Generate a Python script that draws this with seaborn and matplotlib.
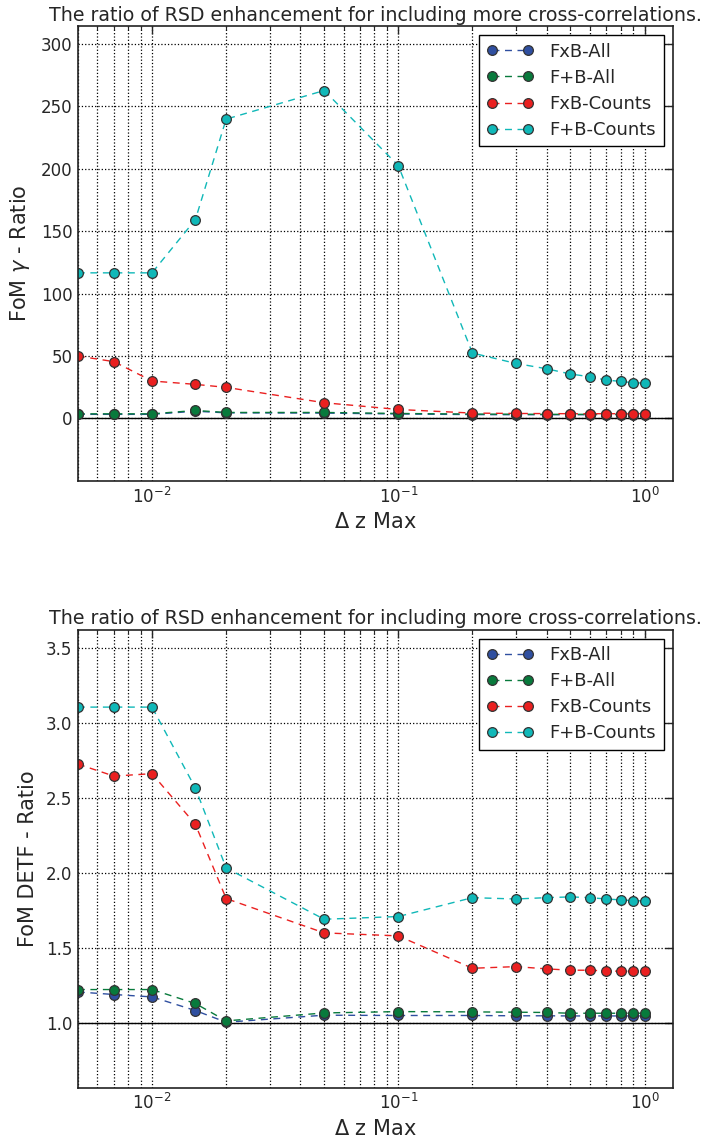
import numpy as np
import pandas as pd
import matplotlib
matplotlib.use("Agg")
import matplotlib.pyplot as plt
import seaborn as sns

# Delta z max values (x axis)
dz_max = [0.005, 0.007, 0.01, 0.015, 0.02, 0.05, 0.1, 0.2, 0.3, 0.4, 0.5, 0.6, 0.7, 0.8, 0.9, 1.0]
series_names = ["FxB-All", "F+B-All", "FxB-Counts", "F+B-Counts"]
series_colors = ["#2f4fa0", "#087a3c", "#ea2020", "#10b8b8"]

# FoM gamma ratio (top panel)
gamma_fxb_all = [3.3, 3.3, 3.3, 5.8, 4.5, 4.3, 3.6, 3.1, 3.0, 3.0, 3.0, 3.0, 3.0, 3.0, 3.0, 3.0]
gamma_fpb_all = [3.7, 3.7, 3.7, 6.4, 4.8, 4.8, 4.0, 3.5, 3.4, 3.3, 3.3, 3.3, 3.3, 3.3, 3.3, 3.3]
gamma_fxb_counts = [50.0, 45.5, 30.0, 27.3, 24.9, 12.6, 7.2, 4.3, 4.0, 3.9, 3.8, 3.8, 3.8, 3.8, 3.8, 3.8]
gamma_fpb_counts = [116.6, 116.6, 116.6, 159.2, 239.7, 262.6, 202.5, 52.4, 44.1, 39.8, 35.6, 33.4, 30.7, 29.7, 28.6, 28.3]

# FoM DETF ratio (bottom panel)
detf_fxb_all = [1.204, 1.187, 1.171, 1.080, 1.002, 1.049, 1.047, 1.047, 1.045, 1.045, 1.044, 1.044, 1.044, 1.044, 1.044, 1.044]
detf_fpb_all = [1.220, 1.220, 1.220, 1.127, 1.011, 1.064, 1.073, 1.071, 1.069, 1.067, 1.062, 1.062, 1.062, 1.062, 1.062, 1.062]
detf_fxb_counts = [2.724, 2.644, 2.660, 2.322, 1.827, 1.598, 1.578, 1.362, 1.373, 1.358, 1.349, 1.349, 1.344, 1.342, 1.342, 1.342]
detf_fpb_counts = [3.104, 3.104, 3.104, 2.564, 2.031, 1.689, 1.707, 1.833, 1.824, 1.833, 1.838, 1.833, 1.824, 1.818, 1.813, 1.811]

title = "The ratio of RSD enhancement for including more cross-correlations."

sns.set_style("white")
plt.rcParams["font.family"] = ["DejaVu Sans"]
plt.rcParams["xtick.direction"] = "in"
plt.rcParams["ytick.direction"] = "in"
plt.rcParams["xtick.top"] = True
plt.rcParams["ytick.right"] = True
plt.rcParams["mathtext.fontset"] = "dejavusans"

fig = plt.figure(figsize=(7.08, 11.45), dpi=100)
ax1 = fig.add_axes([0.110, 0.580, 0.840, 0.397])
ax2 = fig.add_axes([0.110, 0.050, 0.840, 0.400])


def draw_panel(ax, values, ylabel, ylim, yticks, baseline):
    df = pd.DataFrame({"dz": dz_max})
    for name, vals, col in zip(series_names, values, series_colors):
        df[name] = vals
        sns.lineplot(data=df, x="dz", y=name, ax=ax, color=col, marker="o",
                     dashes=False, markersize=7, linewidth=1.0,
                     markeredgecolor="#333333", markeredgewidth=0.9, label=name)
        ax.lines[-1].set_linestyle((0, (5, 4)))
    ax.axhline(baseline, color="k", linewidth=1.0, zorder=1)
    ax.set_xscale("log")
    ax.set_xlim(0.005, 1.3)
    ax.set_ylim(*ylim)
    ax.set_yticks(yticks)
    ax.grid(True, which="major", axis="y", linestyle=":", color="k", linewidth=0.9)
    ax.grid(True, which="both", axis="x", linestyle=":", color="k", linewidth=0.9)
    ax.tick_params(which="major", length=6, width=1, labelsize=12, pad=4)
    ax.tick_params(which="minor", length=3, width=0.8)
    for sp in ax.spines.values():
        sp.set_color("#222222")
        sp.set_linewidth(1.2)
    ax.set_xlabel(r"$\Delta$ z Max", fontsize=15, labelpad=4)
    ax.set_ylabel(ylabel, fontsize=15, labelpad=6)
    ax.set_title(title, fontsize=13.7, pad=4)
    leg = ax.legend(loc="upper right", numpoints=2, handlelength=2.6, fontsize=13,
                    fancybox=False, framealpha=1, edgecolor="k", borderaxespad=0.5,
                    labelspacing=0.45, handletextpad=0.9)
    leg.get_frame().set_linewidth(1.0)


draw_panel(ax1, [gamma_fxb_all, gamma_fpb_all, gamma_fxb_counts, gamma_fpb_counts],
           r"FoM $\gamma$ - Ratio", (-50, 314), [0, 50, 100, 150, 200, 250, 300], 0)
draw_panel(ax2, [detf_fxb_all, detf_fpb_all, detf_fxb_counts, detf_fpb_counts],
           "FoM DETF - Ratio", (0.565, 3.62), [1.0, 1.5, 2.0, 2.5, 3.0, 3.5], 1.0)
ax2.yaxis.set_major_formatter(matplotlib.ticker.FormatStrFormatter("%.1f"))

fig.savefig("out.png", dpi=100)
